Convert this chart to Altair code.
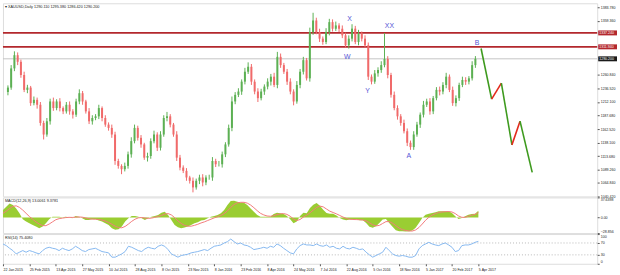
import altair as alt
import pandas as pd

# ---------------- data ----------------
BAR_STEP = 4  # trading days represented by one drawn candle
first_open = 1230.0
closes = [1238.0, 1272.8, 1296.8, 1284.8, 1260.8, 1233.8, 1238.0, 1209.8, 1215.8, 1206.8,
          1173.8, 1152.8, 1176.8, 1212.8, 1200.8, 1212.8, 1200.8, 1194.8, 1206.8, 1194.8,
          1188.8, 1212.8, 1227.8, 1212.8, 1194.8, 1176.8, 1182.8, 1185.8, 1200.8, 1182.8,
          1170.8, 1164.8, 1152.8, 1104.8, 1095.8, 1089.8, 1095.8, 1116.8, 1140.8, 1164.8,
          1146.8, 1134.8, 1110.8, 1113.8, 1140.8, 1152.8, 1128.8, 1152.8, 1182.8, 1185.8,
          1170.8, 1152.8, 1110.8, 1092.8, 1086.8, 1074.8, 1068.8, 1056.8, 1068.8, 1074.8,
          1065.8, 1074.8, 1074.8, 1104.8, 1098.8, 1098.8, 1116.8, 1134.8, 1164.8, 1212.8,
          1224.8, 1230.8, 1248.8, 1266.8, 1275.8, 1248.8, 1230.8, 1218.8, 1230.8, 1239.8,
          1248.8, 1257.8, 1242.8, 1293.8, 1278.8, 1266.8, 1248.8, 1230.8, 1212.8, 1242.8,
          1266.8, 1287.8, 1254.8, 1338.8, 1359.8, 1338.8, 1326.8, 1320.8, 1338.8, 1356.8,
          1344.8, 1350.8, 1344.8, 1332.8, 1314.8, 1326.8, 1345.0, 1320.8, 1335.8, 1326.8,
          1314.8, 1257.8, 1248.8, 1263.8, 1269.8, 1278.8, 1290.0, 1260.8, 1224.8, 1200.8,
          1185.8, 1173.8, 1158.8, 1137.8, 1130.0, 1152.8, 1170.8, 1188.8, 1206.8, 1212.8,
          1194.8, 1218.8, 1233.8, 1230.8, 1242.8, 1257.8, 1233.8, 1209.8, 1218.8, 1242.8,
          1251.8, 1248.8, 1254.8, 1278.8, 1290.2]
upper_wick = [4, 6, 7, 5, 4, 6, 5, 3, 6, 4,
              5, 4, 6, 5, 7, 4, 6, 3, 5, 6,
              4, 5, 7, 4, 3, 6, 5, 4, 6, 3,
              5, 4, 6, 5, 4, 3, 6, 5, 7, 6,
              4, 5, 3, 6, 5, 7, 4, 6, 5, 8,
              4, 3, 6, 5, 4, 5, 3, 6, 4, 5,
              6, 4, 5, 7, 4, 6, 5, 4, 6, 9,
              5, 6, 4, 7, 8, 5, 4, 6, 5, 4,
              6, 5, 7, 9, 6, 4, 5, 6, 4, 7,
              5, 6, 4, 8, 14, 5, 6, 4, 7, 6,
              5, 7, 4, 6, 5, 6, 8, 5, 7, 4,
              6, 5, 4, 6, 5, 7, 47, 5, 4, 6,
              5, 4, 6, 5, 4, 6, 5, 4, 7, 5,
              6, 4, 5, 6, 5, 7, 4, 6, 5, 4,
              6, 5, 4, 7, 5]
lower_wick = [6, 4, 5, 6, 5, 4, 6, 5, 4, 7,
              5, 9, 4, 6, 5, 4, 6, 5, 4, 6,
              7, 4, 5, 6, 4, 5, 6, 4, 5, 6,
              4, 5, 6, 7, 5, 9, 4, 5, 6, 4,
              5, 6, 4, 7, 5, 4, 6, 5, 4, 6,
              5, 4, 6, 5, 4, 6, 5, 9, 4, 6,
              7, 5, 4, 6, 5, 4, 6, 5, 4, 6,
              5, 4, 6, 5, 4, 6, 5, 7, 4, 6,
              5, 7, 4, 6, 5, 4, 6, 5, 7, 4,
              6, 5, 4, 6, 5, 4, 6, 5, 4, 6,
              5, 4, 6, 5, 4, 6, 5, 4, 6, 5,
              4, 6, 5, 4, 6, 5, 4, 6, 5, 4,
              6, 5, 4, 6, 5, 5, 4, 6, 5, 4,
              6, 5, 4, 7, 5, 6, 4, 5, 6, 5,
              4, 6, 5, 4, 5]
macd_main = [14.2, 20.3, 26.5, 23.4, 17.2, 8.0, -3.1, -7.4, -10.5, -13.6,
             -16.6, -19.7, -16.6, -10.5, -3.1, 1.8, 1.8, 1.8, 0.6, 1.8,
             0.6, -1.2, 3.1, 1.8, -1.2, -4.3, -4.3, -3.1, -3.1, -5.5,
             -7.4, -10.5, -13.6, -19.7, -22.8, -21.6, -16.6, -7.4, -1.2, 3.1,
             3.1, 1.8, -1.2, -4.3, -1.2, 1.8, 3.1, 4.9, 9.2, 11.1,
             4.9, -4.3, -13.6, -17.9, -19.7, -18.5, -16.6, -13.6, -10.5, -8.6,
             -5.5, -4.3, -1.2, 1.8, 3.1, 4.9, 8.0, 14.2, 23.4, 30.8,
             31.4, 29.6, 28.3, 27.7, 23.4, 17.2, 11.1, 4.9, 1.8, 1.8,
             1.8, 1.8, 6.8, 9.2, 8.0, 6.8, 3.1, -3.1, -10.5, -7.4,
             3.1, 9.2, 8.0, 17.9, 24.0, 27.1, 22.2, 14.8, 8.6, 7.4,
             7.4, 3.7, -0.6, -3.7, -4.9, -3.7, -3.7, -3.7, -4.9, -4.9,
             -9.9, -17.2, -19.1, -16.0, -9.9, -3.7, -2.5, -9.9, -17.2, -23.4,
             -25.3, -25.3, -25.9, -25.3, -24.0, -19.1, -9.9, -0.6, 5.5, 7.4,
             8.6, 9.9, 11.7, 11.7, 11.7, 11.7, 8.6, 2.5, -2.5, -0.6,
             2.5, 5.5, 6.8, 7.4, 13.0]
macd_signal = [8, 12, 17, 21, 22, 19, 14, 8, 2, -3,
               -8, -12, -15, -15, -12, -8, -4, -2, -1, 0,
               0.5, 0.3, 0.8, 1.2, 0.8, -0.5, -2, -2.8, -3, -3.5,
               -4.5, -6.5, -9, -12.5, -16, -18.5, -19, -16.5, -12, -7,
               -3, -0.5, 0.2, -0.8, -1.5, -1, 0.5, 2, 4, 6.5,
               7.5, 5, 0, -6, -11, -14.5, -16, -16, -14.5, -12.5,
               -10, -8, -5.5, -3, -0.5, 1.5, 4, 7.5, 12.5, 19,
               24.5, 27.5, 28.5, 28.5, 27, 23.5, 18.5, 13, 8, 5,
               3, 2.5, 3.5, 5.5, 7, 7.5, 6, 2.5, -2.5, -5.5,
               -3.5, 1, 4.5, 9, 14, 19, 21.5, 20, 16, 12,
               9.5, 7, 4, 1, -1.5, -3, -3.5, -3.7, -4, -4.5,
               -6, -9.5, -13.5, -15.5, -14.5, -11, -7.5, -7.5, -10.5, -15,
               -19.5, -22.5, -24, -25, -25, -23, -18.5, -12, -5, 0.5,
               4.5, 7.5, 9.5, 10.5, 11, 11.3, 10.5, 7.5, 3, 0.5,
               0.5, 2.5, 4.5, 6, 9.4]
rsi_vals = [66.7, 61.1, 52.2, 44.4, 33.3, 38.9, 44.4, 38.9, 44.4, 41.1,
            36.7, 33.3, 44.4, 52.2, 55.6, 52.2, 50.0, 44.4, 52.2, 47.8,
            44.4, 50.0, 58.9, 52.2, 44.4, 41.1, 47.8, 50.0, 52.2, 46.7,
            41.1, 38.9, 36.7, 22.2, 22.2, 27.8, 33.3, 41.1, 58.9, 55.6,
            50.0, 44.4, 41.1, 50.0, 55.6, 52.2, 50.0, 58.9, 63.3, 58.9,
            47.8, 33.3, 27.8, 22.2, 27.8, 30.0, 32.2, 36.7, 38.9, 41.1,
            44.4, 47.8, 44.4, 52.2, 58.9, 61.1, 63.3, 70.0, 74.4, 83.3,
            74.4, 66.7, 70.0, 63.3, 61.1, 55.6, 47.8, 50.0, 52.2, 55.6,
            52.2, 58.9, 55.6, 66.7, 61.1, 52.2, 44.4, 36.7, 33.3, 50.0,
            61.1, 66.7, 63.3, 63.3, 61.1, 66.7, 61.1, 58.9, 63.3, 55.6,
            58.9, 52.2, 50.0, 58.9, 52.2, 50.0, 55.6, 52.2, 47.8, 50.0,
            38.9, 30.0, 22.2, 27.8, 33.3, 38.9, 55.6, 44.4, 33.3, 27.8,
            25.6, 27.8, 25.6, 22.2, 22.2, 27.8, 50.0, 61.1, 66.7, 72.2,
            66.7, 63.3, 61.1, 66.7, 70.0, 63.3, 55.6, 41.1, 44.4, 61.1,
            63.3, 63.3, 66.7, 72.2, 75.4]

date_labels = ["22 Jan 2015", "25 Feb 2015", "13 Apr 2015", "27 May 2015", "10 Jul 2015",
               "28 Aug 2015", "8 Oct 2015", "23 Nov 2015", "8 Jan 2016", "23 Feb 2016",
               "8 Apr 2016", "24 May 2016", "7 Jul 2016", "22 Aug 2016", "5 Oct 2016",
               "18 Nov 2016", "5 Jan 2017", "20 Feb 2017", "5 Apr 2017"]
BARS_PER_LABEL = 32
price_ticks = [1383.78, 1359.36, 1260.84, 1236.52, 1212.10, 1187.68, 1162.52,
               1138.10, 1113.68, 1089.26, 1064.84, 1040.42]
level_prices = [1337.24, 1311.94]
bid_price = 1290.20

wave_names = ["X", "XX", "W", "Y", "A", "B"]
wave_bars = [421, 470, 418, 443, 494, 578]
wave_prices = [1362.0, 1349.5, 1294.0, 1232.5, 1114.0, 1319.0]

proj_bars = [583, 596, 608, 621, 631, 646]
proj_prices = [1309.0, 1217.0, 1246.0, 1134.0, 1177.0, 1084.0]

title_text = "\u25be XAUUSD,Daily  1290.110 1295.380 1286.420 1290.200"
macd_text = "MACD(12,26,9) 13.0061 9.3781"
rsi_text = "RSI(14) 75.4080"

# ---------------- tables ----------------
n = len(closes)
for arr in (upper_wick, lower_wick, macd_main, macd_signal, rsi_vals):
    assert len(arr) == n, len(arr)

bars = [i * BAR_STEP for i in range(n)]
opens = [first_open] + closes[:-1]
candles = pd.DataFrame({
    "bar": bars,
    "open": opens,
    "close": closes,
    "high": [max(o, c) + u for o, c, u in zip(opens, closes, upper_wick)],
    "low": [min(o, c) - l for o, c, l in zip(opens, closes, lower_wick)],
    "dir": ["up" if c >= o else "down" for o, c in zip(opens, closes)],
})
ind = pd.DataFrame({"bar": bars, "macd": macd_main, "signal": macd_signal, "rsi": rsi_vals})

levels = pd.DataFrame({"price": level_prices, "label": [f"{p:.3f}" for p in level_prices]})
bid = pd.DataFrame({"price": [bid_price], "label": [f"{bid_price:.3f}"]})
waves = pd.DataFrame({"bar": wave_bars, "price": wave_prices, "name": wave_names})

seg_rows = []
for i in range(len(proj_bars) - 1):
    seg_rows.append({
        "b0": proj_bars[i], "p0": proj_prices[i],
        "b1": proj_bars[i + 1], "p1": proj_prices[i + 1],
        "col": "#e32a1c" if proj_prices[i + 1] > proj_prices[i] else "#3e9a1e",
    })
segs = pd.DataFrame(seg_rows)

# ---------------- scales / axes ----------------
W = 600
FONT = "Liberation Sans"
FS = 3.6
xs = alt.Scale(domain=[0, 720], nice=False, zero=False)
ys = alt.Scale(domain=[1040.42, 1391.0], nice=False, zero=False)
ms = alt.Scale(domain=[-28.856, 37.6398], nice=False, zero=False)
rs = alt.Scale(domain=[0, 100], nice=False, zero=False)

ax_common = dict(orient="right", labelFontSize=FS, tickSize=2, tickColor="#555",
                 labelPadding=1, domain=False, grid=False, labelColor="#222",
                 title=None, labelFont=FONT)
y_axis = alt.Axis(values=price_ticks, format=".3f", **ax_common)
m_axis = alt.Axis(values=[37.6398, 0, -28.856], labelFlush=True,
                  labelExpr="datum.value == 0 ? '0.00' : format(datum.value, '.6~r')", **ax_common)
r_axis = alt.Axis(values=[100, 70, 30, 0], labelFlush=True, format="d", **ax_common)

arr_js = "[" + ",".join(f"'{d}'" for d in date_labels) + "]"
x_axis = alt.Axis(values=[BARS_PER_LABEL * k for k in range(len(date_labels))],
                  labelExpr=arr_js + f"[round(datum.value/{BARS_PER_LABEL})]",
                  labelAlign="left", labelFontSize=FS, tickSize=2, tickColor="#555",
                  domain=False, grid=False, labelPadding=2, labelOverlap=False,
                  labelFlush=False, labelColor="#222", title=None, labelFont=FONT)


def X(field="bar:Q", axis=None):
    return alt.X(field, scale=xs, axis=axis)


color_dir = alt.Color("dir:N", scale=alt.Scale(domain=["up", "down"],
                                               range=["#5cb053", "#f06a6a"]), legend=None)

# ---------------- main panel ----------------
wicks = alt.Chart(candles).mark_rule(strokeWidth=1).encode(
    x=X(), y=alt.Y("low:Q", scale=ys, axis=y_axis), y2="high:Q", color=color_dir)
bodies = alt.Chart(candles).mark_bar(size=2).encode(
    x=X(), y=alt.Y("open:Q", scale=ys, axis=y_axis), y2="close:Q", color=color_dir)

bid_line = alt.Chart(bid).mark_rule(color="#c4c4c4", strokeWidth=1).encode(
    y=alt.Y("price:Q", scale=ys, axis=y_axis))
level_lines = alt.Chart(levels).mark_rule(color="#b3282d", strokeWidth=1.7).encode(
    y=alt.Y("price:Q", scale=ys, axis=y_axis))

proj = alt.Chart(segs).mark_rule(strokeWidth=1.6).encode(
    x=X("b0:Q"), x2="b1:Q", y=alt.Y("p0:Q", scale=ys, axis=y_axis), y2="p1:Q",
    color=alt.Color("col:N", scale=None))

wave_text = alt.Chart(waves).mark_text(fontSize=7, color="#5656d6", font=FONT).encode(
    x=X(), y=alt.Y("price:Q", scale=ys, axis=y_axis), text="name:N")

level_box = alt.Chart(levels).mark_rule(strokeWidth=5, color="#b3282d").encode(
    x=alt.value(W + 1), x2=alt.value(W + 20), y=alt.Y("price:Q", scale=ys, axis=y_axis))
level_lbl = alt.Chart(levels).mark_text(align="left", fontSize=FS, color="white", font=FONT).encode(
    x=alt.value(W + 2), y=alt.Y("price:Q", scale=ys, axis=y_axis), text="label:N")
bid_box = alt.Chart(bid).mark_rule(strokeWidth=5, color="#1a1a1a").encode(
    x=alt.value(W + 1), x2=alt.value(W + 20), y=alt.Y("price:Q", scale=ys, axis=y_axis))
bid_lbl = alt.Chart(bid).mark_text(align="left", fontSize=FS, color="white", font=FONT).encode(
    x=alt.value(W + 2), y=alt.Y("price:Q", scale=ys, axis=y_axis), text="label:N")

title = alt.Chart(pd.DataFrame({"t": [title_text]})).mark_text(
    align="left", baseline="top", fontSize=3.8, color="#222", font=FONT).encode(
    x=alt.value(2), y=alt.value(2), text="t:N")

main = alt.layer(bid_line, level_lines, wicks, bodies, proj, wave_text,
                 level_box, level_lbl, bid_box, bid_lbl, title).properties(width=W, height=195)

# ---------------- MACD panel ----------------
m_area = alt.Chart(ind).mark_area(color="#9acd32").encode(
    x=X(), y=alt.Y("macd:Q", scale=ms, axis=m_axis), y2=alt.datum(0))
m_sig = alt.Chart(ind).mark_line(color="#f27b7b", strokeWidth=1).encode(
    x=X(), y=alt.Y("signal:Q", scale=ms, axis=m_axis))
m_title = alt.Chart(pd.DataFrame({"t": [macd_text]})).mark_text(
    align="left", baseline="top", fontSize=3.8, color="#222", font=FONT).encode(
    x=alt.value(2), y=alt.value(2), text="t:N")
macd = alt.layer(m_area, m_sig, m_title).properties(width=W, height=36)

# ---------------- RSI panel ----------------
rsi_levels = pd.DataFrame({"v": [70, 30]})
r_lines = alt.Chart(rsi_levels).mark_rule(color="#b8b8b8", strokeDash=[1, 2]).encode(
    y=alt.Y("v:Q", scale=rs, axis=r_axis))
r_line = alt.Chart(ind).mark_line(color="#86b8f0", strokeWidth=1).encode(
    x=X(axis=x_axis), y=alt.Y("rsi:Q", scale=rs, axis=r_axis))
r_title = alt.Chart(pd.DataFrame({"t": [rsi_text]})).mark_text(
    align="left", baseline="top", fontSize=3.8, color="#222", font=FONT).encode(
    x=alt.value(2), y=alt.value(2), text="t:N")
rsi = alt.layer(r_lines, r_line, r_title).properties(width=W, height=30)

chart = alt.vconcat(main, macd, rsi, spacing=1, bounds="flush").properties(
    padding={"left": 0, "top": 1, "right": 0, "bottom": 0},
    background="white",
).configure_view(stroke="#8c8c8c", strokeWidth=1).configure(font=FONT)

chart.save("out.html", embed_options={"renderer": "svg", "actions": False})
